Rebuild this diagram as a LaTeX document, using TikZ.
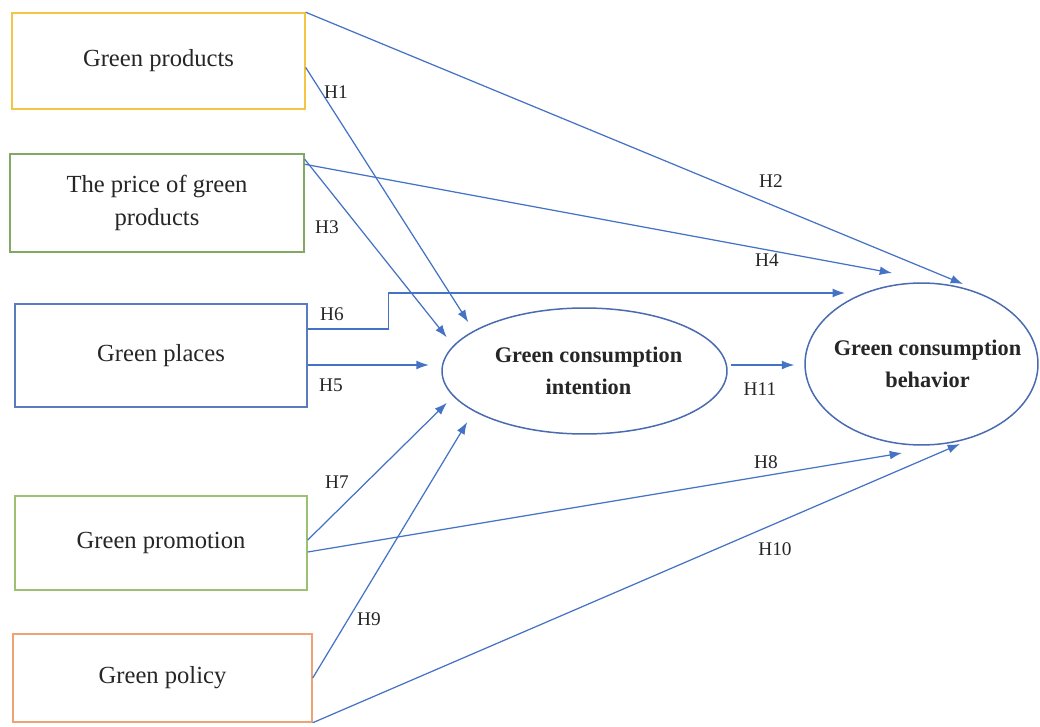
\documentclass[tikz,border=0pt]{standalone}
\usepackage{fontspec}
\setmainfont{Liberation Serif}
\usepackage{tikz}
\usetikzlibrary{positioning,arrows.meta,shapes.geometric,calc}
\usepackage{xcolor}
\definecolor{ink}{HTML}{262626}
\definecolor{pgold}{HTML}{F4C542}
\definecolor{pgreen}{HTML}{82A864}
\definecolor{pblue}{HTML}{5B7BC0}
\definecolor{plime}{HTML}{9DC173}
\definecolor{porange}{HTML}{F0A277}
\definecolor{link}{HTML}{4472C4}
\definecolor{ring}{HTML}{4A6BB0}

\tikzset{
  factor/.style={draw, rectangle, line width=0.85pt, inner sep=0pt, align=center, text=ink,
    font=\fontsize{14}{19}\selectfont},
  construct/.style={draw=ring, ellipse, line width=0.85pt, inner sep=0pt},
  elltext/.style={align=center, text=ink, font=\bfseries\fontsize{12.7}{18.5}\selectfont},
  hyp/.style={text=ink, inner sep=1pt, font=\fontsize{11}{13}\selectfont},
  path/.style={draw=link, line width=0.7pt, -{Latex[length=7pt,width=5pt]}}
}

\begin{document}
\begin{tikzpicture}[x=0.02cm, y=-0.02cm]
    \fill[white] (0,0) rectangle (1040,726);
    \useasboundingbox (0,0) rectangle (1040,726);

    % marketing-mix factors
    \node[factor, draw=pgold, minimum width=5.86cm, minimum height=1.92cm] (gprod) at (158.5,61) {Green products};
    \node[factor, draw=pgreen, minimum width=5.88cm, minimum height=1.96cm] (gprice) at (157,203) {The price of green\\ products};
    \node[factor, draw=pblue, minimum width=5.84cm, minimum height=2.06cm] (gplace) at (161,355.5) {Green places};
    \node[factor, draw=plime, minimum width=5.84cm, minimum height=1.88cm] (gpromo) at (161,543) {Green promotion};
    \node[factor, draw=porange, minimum width=5.98cm, minimum height=1.76cm] (gpolicy) at (162.5,678) {Green policy};

    % intention and behavior
    \node[construct, minimum width=5.7cm, minimum height=2.52cm,
      label={[elltext, xshift=0.08cm]center:Green consumption\\ intention}] (gci) at (584.5,371) {};
    \node[construct, minimum width=4.66cm, minimum height=3.24cm,
      label={[elltext, xshift=0.12cm]center:Green consumption\\ behavior}] (gcb) at (921.5,364) {};

    % paths into intention
    \draw[path, shorten >=0.2cm] ([yshift=-0.13cm]gprod.east) -- (gci.160);
    \draw[path, shorten >=0.21cm] ([yshift=-0.12cm]gprice.north east) -- (gci.169);
    \draw[path, shorten >=0.25cm] ([yshift=-0.19cm]gplace.east) -- ([yshift=-0.19cm]gplace.east -| gci.west);
    \draw[path, shorten >=0.18cm] ([yshift=0.06cm]gpromo.east) -- (gci.191);
    \draw[path, shorten >=0.25cm] (gpolicy.east) -- (gci.200);

    % paths into behavior
    \draw[path] (gprod.north east) -- ($(gcb.center)+(41.5,-80)$);
    \draw[path] ([yshift=-0.22cm]gprice.north east) -- ($(gcb.center)+(-29.5,-91)$);
    \draw[path] ([yshift=0.53cm]gplace.east) -- ++(81,0) |- ($(gcb.center)+(-76.5,-71)$);
    \draw[path] ([yshift=-0.18cm]gpromo.east) -- ($(gcb.center)+(-19.5,89)$);
    \draw[path] (gpolicy.south east) -- ($(gcb.center)+(38.5,80)$);
    \draw[path, shorten <=0.06cm, shorten >=0.2cm] ([yshift=0.12cm]gci.east) -- ([yshift=0.12cm]gci.east -| gcb.west);

    % hypothesis labels
    \node[hyp] (h1) at (336,92) {H1};
    \node[hyp] (h2) at (771,181) {H2};
    \node[hyp] (h3) at (327,227) {H3};
    \node[hyp] (h4) at (767,260) {H4};
    \node[hyp] (h5) at (331,385) {H5};
    \node[hyp] (h6) at (332,314) {H6};
    \node[hyp] (h7) at (337,482) {H7};
    \node[hyp] (h8) at (766,462) {H8};
    \node[hyp] (h9) at (369,619) {H9};
    \node[hyp] (h10) at (775,549) {H10};
    \node[hyp] (h11) at (760,389) {H11};
\end{tikzpicture}
\end{document}
